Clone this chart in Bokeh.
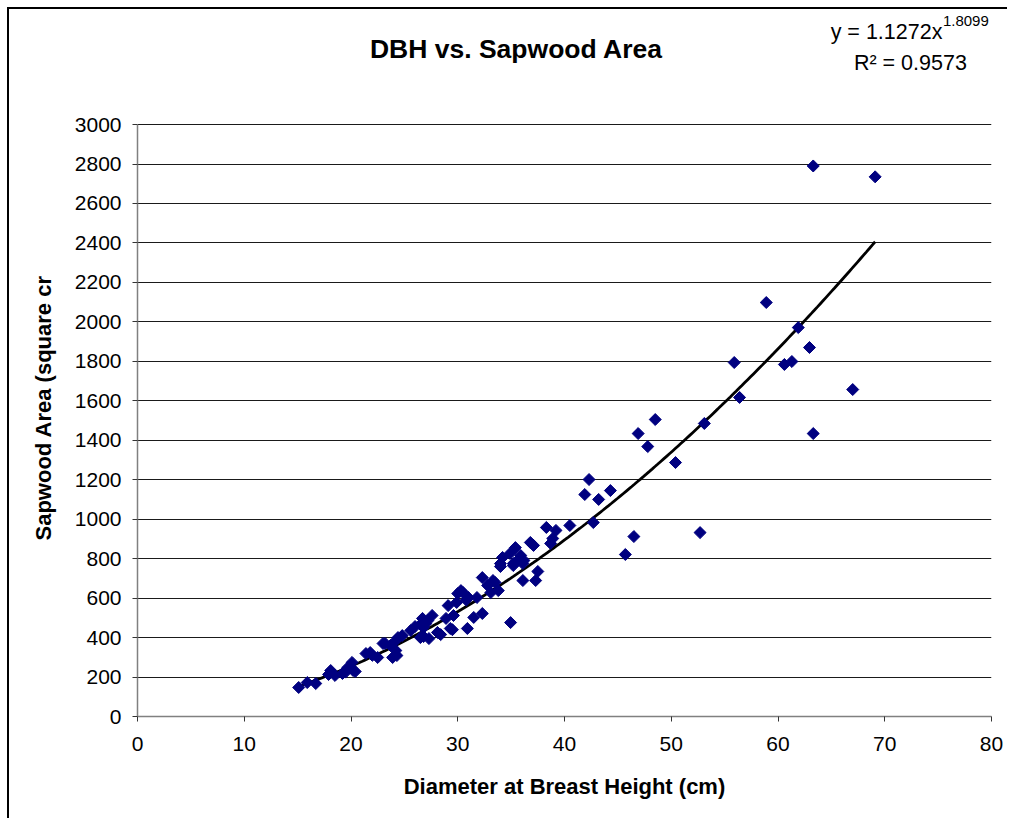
import numpy as np
from bokeh.plotting import figure
from bokeh.models import FixedTicker, Title, ColumnDataSource
from bokeh.core.properties import value
from bokeh.embed import file_html
from bokeh.resources import INLINE

# Diameter at breast height (cm) and sapwood area (square cm) per tree
dbh = [15.1, 15.9, 16.7, 17.9, 18.1, 18.5, 19.2, 19.5, 19.7, 20.2, 20.1, 20.4,
       21.4, 21.8, 22.0, 22.5, 23.0, 23.2, 23.7, 23.9, 24.2, 24.3, 24.4, 24.2,
       24.8, 25.6, 26.0, 26.5, 26.7, 27.2, 27.6, 26.8, 26.5, 27.3, 26.8, 27.0,
       28.1, 28.4, 29.3, 29.5, 28.9, 29.6, 29.1, 29.9, 30.0, 30.5, 30.3, 30.8,
       31.0, 30.9, 31.5, 32.3, 32.3, 33.3, 33.1, 33.8, 32.8, 33.5, 31.8, 34.95,
       34.0, 34.0, 35.2, 36.1, 34.9, 35.4, 35.6, 36.2, 35.2, 34.2, 35.9, 36.8,
       37.1, 36.1, 37.3, 37.5, 38.3, 39.2, 38.7, 38.9, 40.5, 42.7, 41.9, 42.3,
       43.2, 44.3, 46.5, 45.7, 52.7, 46.9, 47.8, 48.5, 50.4, 53.1, 55.9, 56.4,
       58.9, 60.6, 61.3, 61.9, 62.95, 63.3, 67.0, 63.3, 69.1]
sapwood = [147, 172, 167, 213, 233, 208, 218, 225, 248, 233, 274, 228,
           319, 324, 310, 299, 370, 370, 360, 299, 334, 309, 400, 385,
           410, 436, 456, 466, 497, 486, 512, 451, 400, 395, 405, 470,
           426, 415, 446, 440, 497, 512, 562, 578, 623, 628, 638, 590,
           603, 446, 502, 522, 704, 689, 628, 638, 664, 679, 603, 476,
           775, 760, 775, 775, 826, 856, 791, 791, 765, 806, 816, 882,
           867, 689, 689, 735, 958, 943, 877, 902, 968, 983, 1125, 1201,
           1100, 1145, 912, 821, 932, 1434, 1368, 1505, 1287, 1485, 1794, 1617,
           2098, 1784, 1799, 1971, 1870, 1434, 1657, 2790, 2735]

# Power trendline y = a * x^b
coef_a = 1.1272
coef_b = 1.8099
r_squared = 0.9573

x_ticks = list(range(0, 81, 10))
y_ticks = list(range(0, 3001, 200))

FONT = "Liberation Sans"
Y_MAX = 3000
Y_TOP = 3583   # headroom above the axis for the title and equation

p = figure(width=1000, height=811, x_range=(0, 80), y_range=(0, Y_TOP),
           output_backend="svg", toolbar_location=None,
           min_border_left=128, min_border_right=18,
           min_border_top=0, min_border_bottom=104)
# chart area border
p.styles = {"margin-left": "7px", "margin-top": "7px",
            "border-left": "2px solid black", "border-top": "2px solid black"}
p.outline_line_color = None
p.background_fill_color = "white"
p.border_fill_color = "white"

# grid: horizontal lines only
p.xgrid.grid_line_color = None
p.ygrid.grid_line_color = "#1a1a1a"
p.ygrid.grid_line_width = 1
p.xaxis.ticker = FixedTicker(ticks=x_ticks)
p.yaxis.ticker = FixedTicker(ticks=y_ticks)
p.yaxis.bounds = (0, Y_MAX)

for ax in (p.xaxis[0], p.yaxis[0]):
    ax.axis_line_color = "#808080"
    ax.axis_line_width = 1.5
    ax.major_tick_line_color = "#333333"
    ax.major_tick_in = 0
    ax.major_tick_out = 5
    ax.minor_tick_line_color = None
    ax.major_label_text_font = FONT
    ax.major_label_text_font_size = "21px"
    ax.major_label_text_color = "black"
    ax.axis_label_text_font = FONT
    ax.axis_label_text_font_style = "bold"
    ax.axis_label_text_font_size = "22px"
    ax.axis_label_text_color = "black"

p.xaxis.axis_label = "Diameter at Breast Height (cm)"
p.yaxis.major_label_standoff = 11
p.xaxis.major_label_standoff = 15
p.xaxis.axis_label_standoff = 20

# y-axis title, starting a fixed distance above the bottom of the plot area
p.add_layout(Title(text="Sapwood Area (square cr", align="left", offset=176,
                   standoff=32, text_font=FONT, text_font_style="bold",
                   text_font_size="22px", text_color="black"), "left")

# trendline over the observed range
xs = np.linspace(min(dbh), max(dbh), 200)
p.line(xs, coef_a * xs ** coef_b, line_color="black", line_width=2.8)

src = ColumnDataSource(dict(x=dbh, y=sapwood))
p.scatter("x", "y", source=src, marker="square", angle=np.pi / 4, size=8.5,
          fill_color="#000080", line_color="#000080")

# chart title
p.text(x=[35.5], y=[3385], text=["DBH vs. Sapwood Area"],
       text_font=value(FONT), text_font_style="bold", text_font_size="26.5px",
       text_align="center", text_baseline="middle", text_color="black")
# trendline equation and R squared
p.text(x=[75.4], y=[3471], text=[f"y = {coef_a}x"],
       text_font=value(FONT), text_font_size="21.5px",
       text_align="right", text_baseline="middle", text_color="black")
p.text(x=[75.45], y=[3524], text=[f"{coef_b}"],
       text_font=value(FONT), text_font_size="15px",
       text_align="left", text_baseline="middle", text_color="black")
p.text(x=[72.4], y=[3314], text=[f"R\u00b2 = {r_squared}"],
       text_font=value(FONT), text_font_size="21.5px",
       text_align="center", text_baseline="middle", text_color="black")

open("out.html", "w").write(file_html(p, INLINE))
